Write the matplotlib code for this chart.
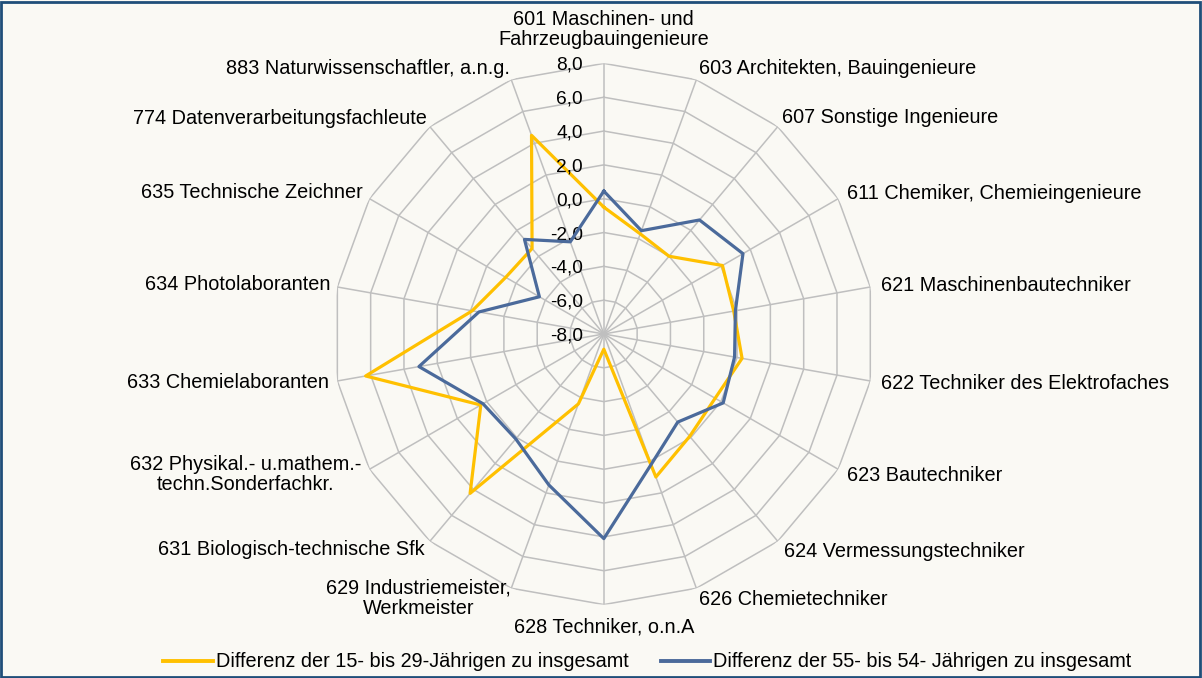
import numpy as np
import matplotlib.pyplot as plt
from matplotlib.lines import Line2D
from matplotlib.patches import Rectangle

plt.rcParams["font.family"] = ["Liberation Sans", "DejaVu Sans"]

categories = [
    "601 Maschinen- und\nFahrzeugbauingenieure",
    "603 Architekten, Bauingenieure",
    "607 Sonstige Ingenieure",
    "611 Chemiker, Chemieingenieure",
    "621 Maschinenbautechniker",
    "622 Techniker des Elektrofaches",
    "623 Bautechniker",
    "624 Vermessungstechniker",
    "626 Chemietechniker",
    "628 Techniker, o.n.A",
    "629 Industriemeister,\nWerkmeister",
    "631 Biologisch-technische Sfk",
    "632 Physikal.- u.mathem.-\ntechn.Sonderfachkr.",
    "633 Chemielaboranten",
    "634 Photolaboranten",
    "635 Technische Zeichner",
    "774 Datenverarbeitungsfachleute",
    "883 Naturwissenschaftler, a.n.g.",
]
young = [-0.5, -1.7, -2.0, 0.1, -0.2, 0.3, -0.4, -0.1, 1.0,
         -7.1, -3.6, 4.3, 0.4, 6.3, -0.1, -1.3, -1.4, 4.5]
old = [0.45, -1.5, 0.8, 1.5, -0.1, -0.15, 0.15, -1.2, 0.2,
       4.1, 1.5, 0.1, 0.25, 3.1, -0.5, -3.6, -0.7, -2.2]
ticks = [-8, -6, -4, -2, 0, 2, 4, 6, 8]
series_names = ["Differenz der 15- bis 29-Jährigen zu insgesamt",
                "Differenz der 55- bis 54- Jährigen zu insgesamt"]

YELLOW = "#FFC000"
BLUE = "#4B6A9B"
GRID = "#BFBFBF"
BG = "#FAF9F4"

n = len(categories)
angles = np.arange(n) * 2 * np.pi / n
closed = np.append(angles, angles[0])

fig = plt.figure(figsize=(12.02, 6.78), dpi=100, facecolor=BG)
ax = fig.add_axes([0.2772, 0.1083, 0.4503, 0.7982], projection="polar")
ax.set_theta_zero_location("N")
ax.set_theta_direction(-1)
ax.set_ylim(-8, 8)
ax.grid(False)
ax.set_xticks([])
ax.set_yticks([])
ax.spines["polar"].set_visible(False)
ax.patch.set_alpha(0)

# polygon grid
for v in ticks[1:]:
    ax.plot(closed, [v] * (n + 1), color=GRID, lw=1.1, zorder=1)
for a in angles:
    ax.plot([a, a], [-8, 8], color=GRID, lw=1.1, zorder=1)

ax.plot(closed, young + young[:1], color=YELLOW, lw=2.3, zorder=3)
ax.plot(closed, old + old[:1], color=BLUE, lw=2.3, zorder=4)

# tick labels on the top spoke
for v in ticks:
    ax.annotate(f"{v:.1f}".replace(".", ","), xy=(0, v), xytext=(-21, -2),
                textcoords="offset pixels", ha="right", va="center",
                fontsize=13.8, color="black")

# category labels: (dx, dy, ha) offsets in pixels from the outer vertex
offsets = [
    (0, 34, "center"), (3, 11, "left"), (4, 9, "left"), (9, 5, "left"),
    (11, 1, "left"), (11, -3, "left"), (9, -6, "left"), (6, -10, "left"),
    (3, -11, "left"), (0, -22, "center"), (0, -10, "right"), (-5, -8, "right"),
    (-8, -5, "right"), (-8, -2, "right"), (-7, 2, "right"), (-7, 6, "right"),
    (-3, 8, "right"), (-1, 11, "right"),
]
for a, lab, (dx, dy, ha) in zip(angles, categories, offsets):
    ax.annotate(lab, xy=(a, 8), xytext=(dx, dy), textcoords="offset pixels",
                ha=ha, va="center", multialignment="center",
                linespacing=1.1, fontsize=14.3, color="black")

handles = [Line2D([], [], color=YELLOW, lw=2.8),
           Line2D([], [], color=BLUE, lw=2.8)]
fig.legend(handles, series_names, loc="center", bbox_to_anchor=(0.5387, 0.0236),
           ncol=2, frameon=False, fontsize=14.3, handlelength=2.5,
           handletextpad=0.15, columnspacing=1.6, borderpad=0)

fig.add_artist(Rectangle((0.001, 0.002), 0.997, 0.995, transform=fig.transFigure,
                         fill=False, edgecolor="#1F4E79", lw=2))

fig.savefig("out.png", dpi=100, facecolor=BG)
